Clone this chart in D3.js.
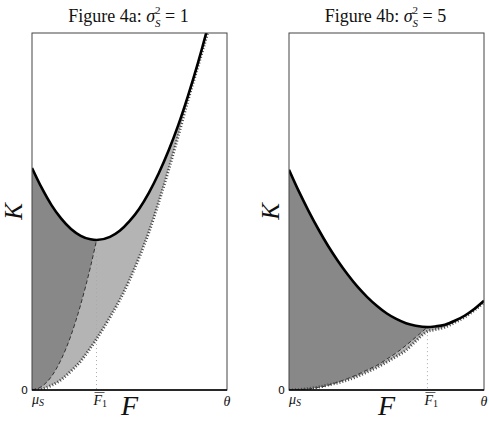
<!DOCTYPE html>
<html>
<head>
<meta charset="utf-8">
<script src="https://cdn.jsdelivr.net/npm/d3@7"></script>
<style>
    body { margin: 0; background: #fff; }
    svg text { font-family: "Liberation Serif", "DejaVu Serif", serif; fill: #111; }
</style>
</head>
<body>
<div id="chart"></div>
<script>
// F runs from mu_S (0) to theta (1), K from 0 to the top of the frame (1)
const panelNames = ["4a", "4b"];
const sigmaValues = [1, 5];
const xTickLabels = ["μ", "θ"];
const yTickLabels = ["0"];

// Figure 4a
const gridA   = [0, 0.05, 0.1, 0.15, 0.2, 0.25, 0.3, 0.331, 0.4, 0.45, 0.5, 0.55, 0.6, 0.65, 0.7, 0.75, 0.8, 0.85, 0.9, 0.95];
const blackA  = [0.622, 0.566, 0.518, 0.480, 0.451, 0.432, 0.422, 0.420, 0.429, 0.446, 0.473, 0.508, 0.553, 0.607, 0.670, 0.742, 0.824, 0.914, 1.014, 1.123];
const dottedA = [0, 0.003, 0.013, 0.029, 0.053, 0.081, 0.118, 0.143, 0.204, 0.252, 0.308, 0.372, 0.443, 0.526, 0.616, 0.712, 0.812, 0.905, 1.0, 1.11];
const dashedA = [0, 0.010, 0.038, 0.086, 0.153, 0.240, 0.345, 0.420, null, null, null, null, null, null, null, null, null, null, null, null];
const f1A = 0.331;

// Figure 4b
const gridB   = [0, 0.05, 0.1, 0.15, 0.2, 0.25, 0.3, 0.35, 0.4, 0.45, 0.5, 0.55, 0.6, 0.65, 0.71, 0.75, 0.8, 0.85, 0.9, 0.95, 1.0];
const blackB  = [0.617, 0.557, 0.502, 0.451, 0.404, 0.362, 0.324, 0.290, 0.261, 0.236, 0.215, 0.199, 0.187, 0.180, 0.176, 0.178, 0.183, 0.194, 0.208, 0.227, 0.250];
const dottedB = [0, 0.001, 0.004, 0.008, 0.014, 0.020, 0.028, 0.038, 0.050, 0.063, 0.078, 0.094, 0.111, 0.137, 0.164, 0.169, 0.176, 0.189, 0.204, 0.223, 0.246];
const dashedB = [0, 0.001, 0.003, 0.007, 0.013, 0.022, 0.032, 0.043, 0.056, 0.069, 0.086, 0.104, 0.125, 0.148, 0.176, null, null, null, null, null, null];
const f1B = 0.71;

const totalWidth = 489, totalHeight = 430;
const panelTop = 33, panelHeight = 357, panelWidth = 195;
const darkGray = "#888888", lightGray = "#b4b4b4";

let svg = d3.select("#chart").append("svg")
        .attr("width", totalWidth)
        .attr("height", totalHeight);

drawPanel(svg, {name: panelNames[0], sigma: sigmaValues[0], left: 32, grid: gridA, black: blackA, dotted: dottedA, dashed: dashedA, f1: f1A});
drawPanel(svg, {name: panelNames[1], sigma: sigmaValues[1], left: 289, grid: gridB, black: blackB, dotted: dottedB, dashed: dashedB, f1: f1B});

function drawPanel(svg, p) {
    let x = d3.scaleLinear().domain([0, 1]).range([p.left, p.left + panelWidth]);
    let y = d3.scaleLinear().domain([0, 1]).range([panelTop + panelHeight, panelTop]);
    let idx = d3.range(p.grid.length);
    let clipId = "clip" + p.name;

    svg.append("clipPath")
            .attr("id", clipId)
            .append("rect")
            .attr("x", x(0))
            .attr("y", y(1))
            .attr("width", x(1) - x(0))
            .attr("height", y(0) - y(1));

    let plot = svg.append("g").attr("clip-path", "url(#" + clipId + ")");

    // light region: between the dotted boundary and the thick curve
    plot.append("path")
            .datum(idx)
            .attr("fill", lightGray)
            .attr("d", d3.area()
                    .x(i => x(p.grid[i]))
                    .y0(i => y(p.dotted[i]))
                    .y1(i => y(p.black[i]))
                    .curve(d3.curveMonotoneX));

    // dark region: between the dashed curve and the thick curve, left of F1
    let darkIdx = idx.filter(i => p.dashed[i] != null);
    plot.append("path")
            .datum(darkIdx)
            .attr("fill", darkGray)
            .attr("d", d3.area()
                    .x(i => x(p.grid[i]))
                    .y0(i => y(p.dashed[i]))
                    .y1(i => y(p.black[i]))
                    .curve(d3.curveMonotoneX));

    // F1 guide
    let f1Index = p.grid.indexOf(p.f1);
    plot.append("line")
            .attr("x1", x(p.f1))
            .attr("x2", x(p.f1))
            .attr("y1", y(p.black[f1Index]))
            .attr("y2", y(0))
            .attr("stroke", "#aaa")
            .attr("stroke-width", 1)
            .attr("stroke-dasharray", "1,3");

    plot.append("path")
            .datum(darkIdx)
            .attr("fill", "none")
            .attr("stroke", "#333")
            .attr("stroke-width", 1)
            .attr("stroke-dasharray", "4,2.5")
            .attr("d", d3.line()
                    .x(i => x(p.grid[i]))
                    .y(i => y(p.dashed[i]))
                    .curve(d3.curveMonotoneX));

    plot.append("path")
            .datum(idx)
            .attr("fill", "none")
            .attr("stroke", "#444")
            .attr("stroke-width", 3)
            .attr("stroke-dasharray", "1,2")
            .attr("d", d3.line()
                    .x(i => x(p.grid[i]))
                    .y(i => y(p.dotted[i]))
                    .curve(d3.curveMonotoneX));

    plot.append("path")
            .datum(idx)
            .attr("fill", "none")
            .attr("stroke", "#000")
            .attr("stroke-width", 2.6)
            .attr("d", d3.line()
                    .x(i => x(p.grid[i]))
                    .y(i => y(p.black[i]))
                    .curve(d3.curveMonotoneX));

    // frame
    svg.append("rect")
            .attr("x", x(0))
            .attr("y", y(1))
            .attr("width", x(1) - x(0))
            .attr("height", y(0) - y(1))
            .attr("fill", "none")
            .attr("stroke", "#444")
            .attr("stroke-width", 1);
    svg.append("line")
            .attr("x1", x(0))
            .attr("x2", x(1))
            .attr("y1", y(0))
            .attr("y2", y(0))
            .attr("stroke", "#000")
            .attr("stroke-width", 1.5);

    // title, sigma with stacked sup/sub
    let title = svg.append("text")
            .attr("x", x(0.5) - 1)
            .attr("y", 22)
            .attr("text-anchor", "middle")
            .attr("font-size", 18);
    title.append("tspan").text("Figure " + p.name + ": ");
    title.append("tspan").attr("font-style", "italic").text("σ");
    title.append("tspan").attr("font-size", 11).attr("dy", -8).text("2");
    title.append("tspan").attr("font-size", 11).attr("font-style", "italic").attr("dx", -5.5).attr("dy", 13).text("S");
    title.append("tspan").attr("dy", -5).text(" = " + p.sigma);

    // tick labels
    svg.append("text")
            .attr("x", x(0) - 4)
            .attr("y", y(0) + 4)
            .attr("text-anchor", "end")
            .style("font-family", "'DejaVu Sans', sans-serif")
            .attr("font-size", 11)
            .text(yTickLabels[0]);

    let mu = svg.append("text")
            .attr("x", x(0))
            .attr("y", y(0) + 14)
            .attr("font-size", 14)
            .attr("font-style", "italic")
            .attr("fill", "#333");
    mu.append("tspan").text(xTickLabels[0]);
    mu.append("tspan").attr("font-size", 10).attr("dy", 2).text("S");

    svg.append("text")
            .attr("x", x(1))
            .attr("y", y(0) + 16)
            .attr("text-anchor", "middle")
            .attr("font-size", 14)
            .attr("font-style", "italic")
            .text(xTickLabels[1]);

    let fbar = svg.append("text")
            .attr("x", x(p.f1) - 3)
            .attr("y", y(0) + 15)
            .attr("font-size", 14)
            .attr("font-style", "italic")
            .attr("fill", "#333");
    fbar.append("tspan").text("F");
    fbar.append("tspan").attr("font-size", 10).attr("font-style", "normal").attr("dy", 2).text("1");
    svg.append("line")
            .attr("x1", x(p.f1) - 2)
            .attr("x2", x(p.f1) + 8)
            .attr("y1", y(0) + 2.5)
            .attr("y2", y(0) + 2.5)
            .attr("stroke", "#333")
            .attr("stroke-width", 0.8);

    // axis titles
    svg.append("text")
            .attr("x", x(0.5))
            .attr("y", y(0) + 25)
            .attr("text-anchor", "middle")
            .attr("font-size", 28)
            .attr("font-style", "italic")
            .text("F");

    svg.append("text")
            .attr("transform", "translate(" + (x(0) - 10) + "," + y(0.5) + ") rotate(-90)")
            .attr("text-anchor", "middle")
            .attr("font-size", 25)
            .attr("font-style", "italic")
            .text("K");
}
</script>
</body>
</html>
